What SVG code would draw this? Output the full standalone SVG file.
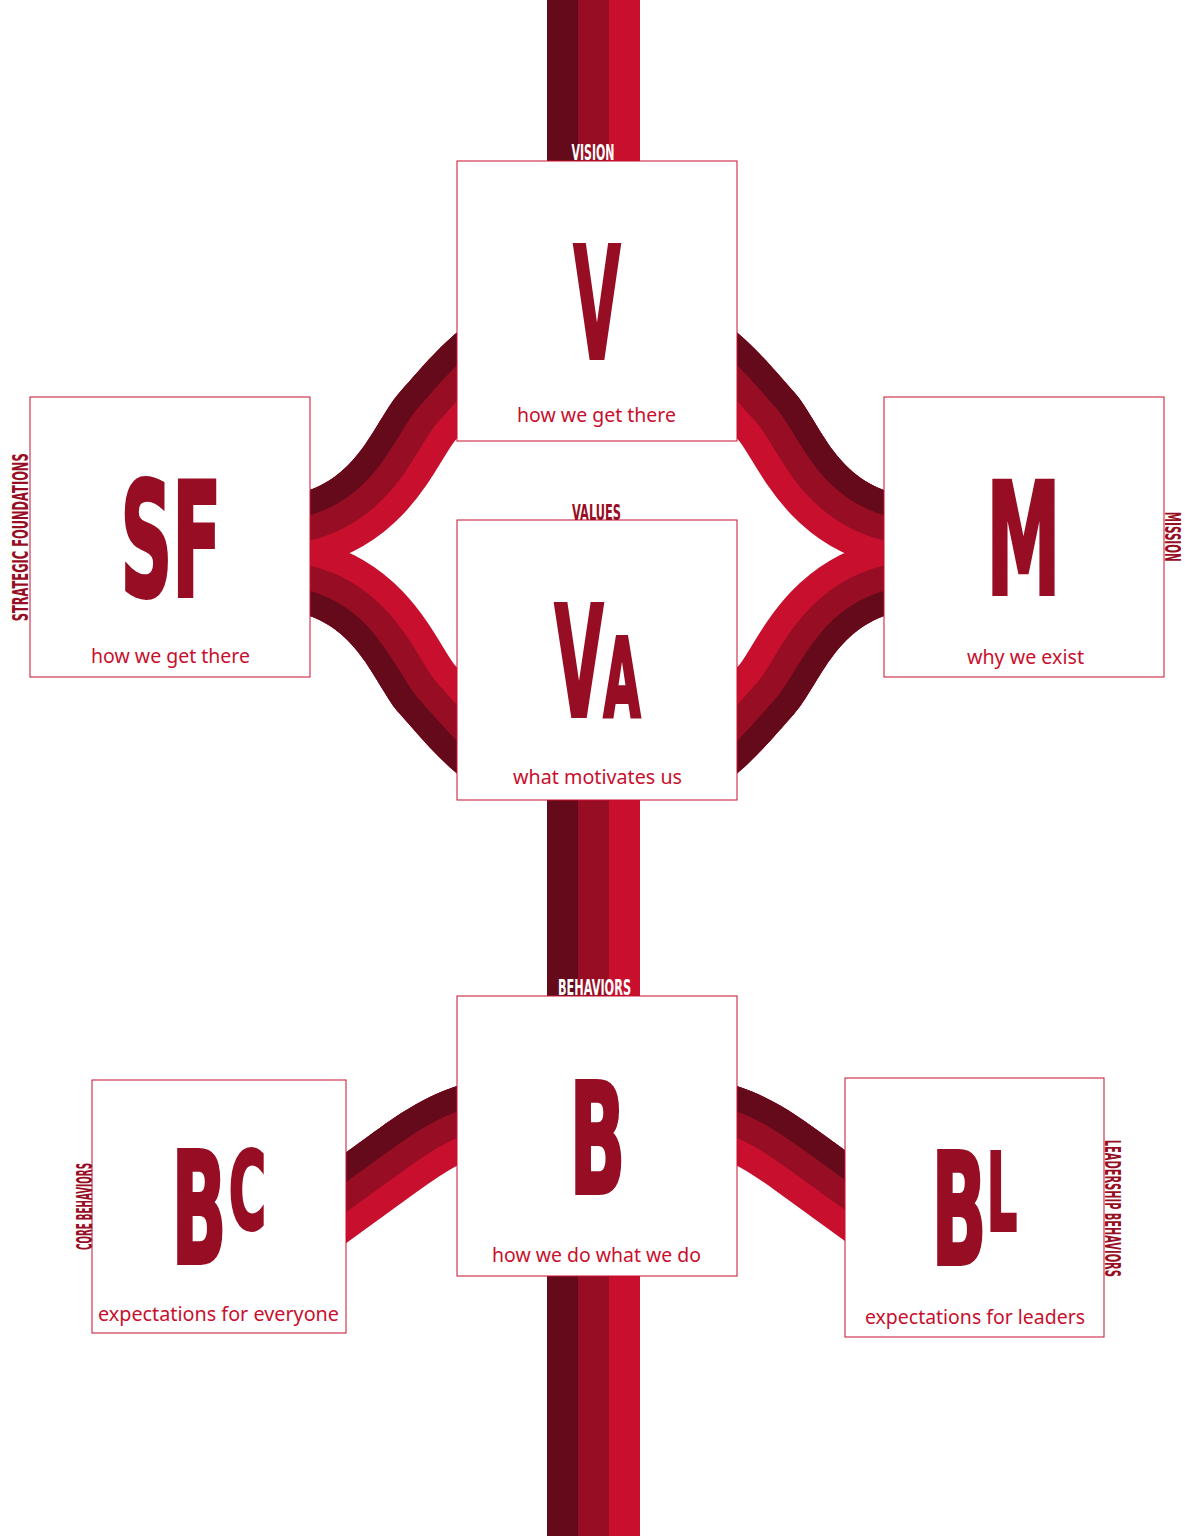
<svg xmlns="http://www.w3.org/2000/svg" width="1185" height="1536" viewBox="0 0 1185 1536">
<style>
.box{fill:#fff;stroke:#C8102E;stroke-width:1}
.big{font-family:'DejaVu Sans',sans-serif;font-weight:bold;fill:#970E24;stroke:#970E24;stroke-width:4;stroke-linejoin:miter;text-anchor:middle}
.sub{font-family:'Noto Sans','Open Sans',sans-serif;font-size:20px;fill:#C8102E;text-anchor:middle}
.lbl{font-family:'DejaVu Sans',sans-serif;font-weight:bold;font-size:21px;fill:#970E24;text-anchor:middle}
.w{fill:#fff}
.d{fill:#640A1A}.m{fill:#970E24}.b{fill:#C8102E}
</style>
<defs>
<path id="ulA" d="M250,505 C275,501 288,496 300,493 C360,478 375,420 400,392 S440,345 470,322 C482,313 498,311 515,311"/>
<clipPath id="ulClip"><path d="M250,505 C275,501 288,496 300,493 C360,478 375,420 400,392 S440,345 470,322 C482,313 498,311 515,311 L515,1000 L250,1000 Z"/></clipPath>
<g id="ulBand" clip-path="url(#ulClip)" fill="none">
<use href="#ulA" stroke="#C8102E" stroke-width="147"/>
<use href="#ulA" stroke="#970E24" stroke-width="97"/>
<use href="#ulA" stroke="#640A1A" stroke-width="48"/>
</g>
<path id="blA" d="M200,1240 C240,1236 265,1211 290,1193 L370,1135 C395,1117 430,1090 480,1080 C500,1076 520,1075 540,1075"/>
<clipPath id="blClip"><path d="M200,1240 C240,1236 265,1211 290,1193 L370,1135 C395,1117 430,1090 480,1080 C500,1076 520,1075 540,1075 L540,1400 L200,1400 Z"/></clipPath>
<g id="blBand" clip-path="url(#blClip)" fill="none">
<use href="#blA" stroke="#C8102E" stroke-width="147"/>
<use href="#blA" stroke="#970E24" stroke-width="97"/>
<use href="#blA" stroke="#640A1A" stroke-width="48"/>
</g>
</defs>
<g id="connectors">
<rect class="d" x="547" y="0" width="31" height="300"/>
<rect class="m" x="578" y="0" width="31" height="300"/>
<rect class="b" x="609" y="0" width="31" height="300"/>
<rect class="d" x="547" y="700" width="31" height="836"/>
<rect class="m" x="578" y="700" width="31" height="836"/>
<rect class="b" x="609" y="700" width="31" height="836"/>
<use href="#ulBand"/>
<use href="#ulBand" transform="matrix(1 0 0 -1 0 1106)"/>
<use href="#ulBand" transform="matrix(-1 0 0 1 1194 0)"/>
<use href="#ulBand" transform="matrix(-1 0 0 -1 1194 1106)"/>
<use href="#blBand"/>
<use href="#blBand" transform="matrix(-1 0 0 1 1194 0)"/>
</g>
<g id="vision">
<rect class="box" x="457" y="161" width="280" height="280"/>
<text class="lbl w" x="593" y="160" textLength="43" lengthAdjust="spacingAndGlyphs">VISION</text>
<text class="big" x="597" y="358" font-size="155" textLength="47" lengthAdjust="spacingAndGlyphs">V</text>
<text class="sub" x="596.5" y="422" textLength="159" lengthAdjust="spacingAndGlyphs">how we get there</text>
</g>
<g id="strategic-foundations">
<rect class="box" x="30" y="397" width="280" height="280"/>
<text class="lbl" transform="translate(28,537.3) rotate(-90)" textLength="168" lengthAdjust="spacingAndGlyphs">STRATEGIC FOUNDATIONS</text>
<text class="big" x="171" y="596" font-size="159" textLength="101" lengthAdjust="spacingAndGlyphs">SF</text>
<text class="sub" x="170.5" y="663" textLength="159" lengthAdjust="spacingAndGlyphs">how we get there</text>
</g>
<g id="mission">
<rect class="box" x="884" y="397" width="280" height="280"/>
<text class="lbl" transform="translate(1165,536.7) rotate(90)" textLength="50" lengthAdjust="spacingAndGlyphs">MISSION</text>
<text class="big" x="1023.5" y="594" font-size="155" textLength="74" lengthAdjust="spacingAndGlyphs">M</text>
<text class="sub" x="1025.5" y="664" textLength="117" lengthAdjust="spacingAndGlyphs">why we exist</text>
</g>
<g id="values">
<rect class="box" x="457" y="520" width="280" height="280"/>
<text class="lbl" x="596.5" y="519.5" textLength="49" lengthAdjust="spacingAndGlyphs">VALUES</text>
<text class="big" x="579" y="716" font-size="154" textLength="49" lengthAdjust="spacingAndGlyphs">V</text>
<text class="big" x="622" y="716" font-size="108" textLength="37" lengthAdjust="spacingAndGlyphs">A</text>
<text class="sub" x="597.5" y="784" textLength="169" lengthAdjust="spacingAndGlyphs">what motivates us</text>
</g>
<g id="behaviors">
<rect class="box" x="457" y="996" width="280" height="280"/>
<text class="lbl w" x="594.5" y="995" textLength="73" lengthAdjust="spacingAndGlyphs">BEHAVIORS</text>
<text class="big" x="597.5" y="1193" font-size="154" textLength="56" lengthAdjust="spacingAndGlyphs">B</text>
<text class="sub" x="596.5" y="1262" textLength="209" lengthAdjust="spacingAndGlyphs">how we do what we do</text>
</g>
<g id="core-behaviors">
<rect class="box" x="92" y="1080" width="254" height="253"/>
<text class="lbl" transform="translate(91.5,1206.5) rotate(-90)" textLength="87" lengthAdjust="spacingAndGlyphs">CORE BEHAVIORS</text>
<text class="big" x="199" y="1263" font-size="155" textLength="55" lengthAdjust="spacingAndGlyphs">B</text>
<text class="big" x="247.5" y="1228" font-size="107" textLength="37" lengthAdjust="spacingAndGlyphs">C</text>
<text class="sub" x="218.5" y="1321" textLength="241" lengthAdjust="spacingAndGlyphs">expectations for everyone</text>
</g>
<g id="leadership-behaviors">
<rect class="box" x="845" y="1078" width="259" height="259"/>
<text class="lbl" font-size="18" transform="translate(1105,1208.3) rotate(90)" textLength="137" lengthAdjust="spacingAndGlyphs">LEADERSHIP BEHAVIORS</text>
<text class="big" x="959" y="1264" font-size="155" textLength="55" lengthAdjust="spacingAndGlyphs">B</text>
<text class="big" x="1002" y="1230" font-size="107" textLength="30" lengthAdjust="spacingAndGlyphs">L</text>
<text class="sub" x="975" y="1324" textLength="220" lengthAdjust="spacingAndGlyphs">expectations for leaders</text>
</g>
</svg>
